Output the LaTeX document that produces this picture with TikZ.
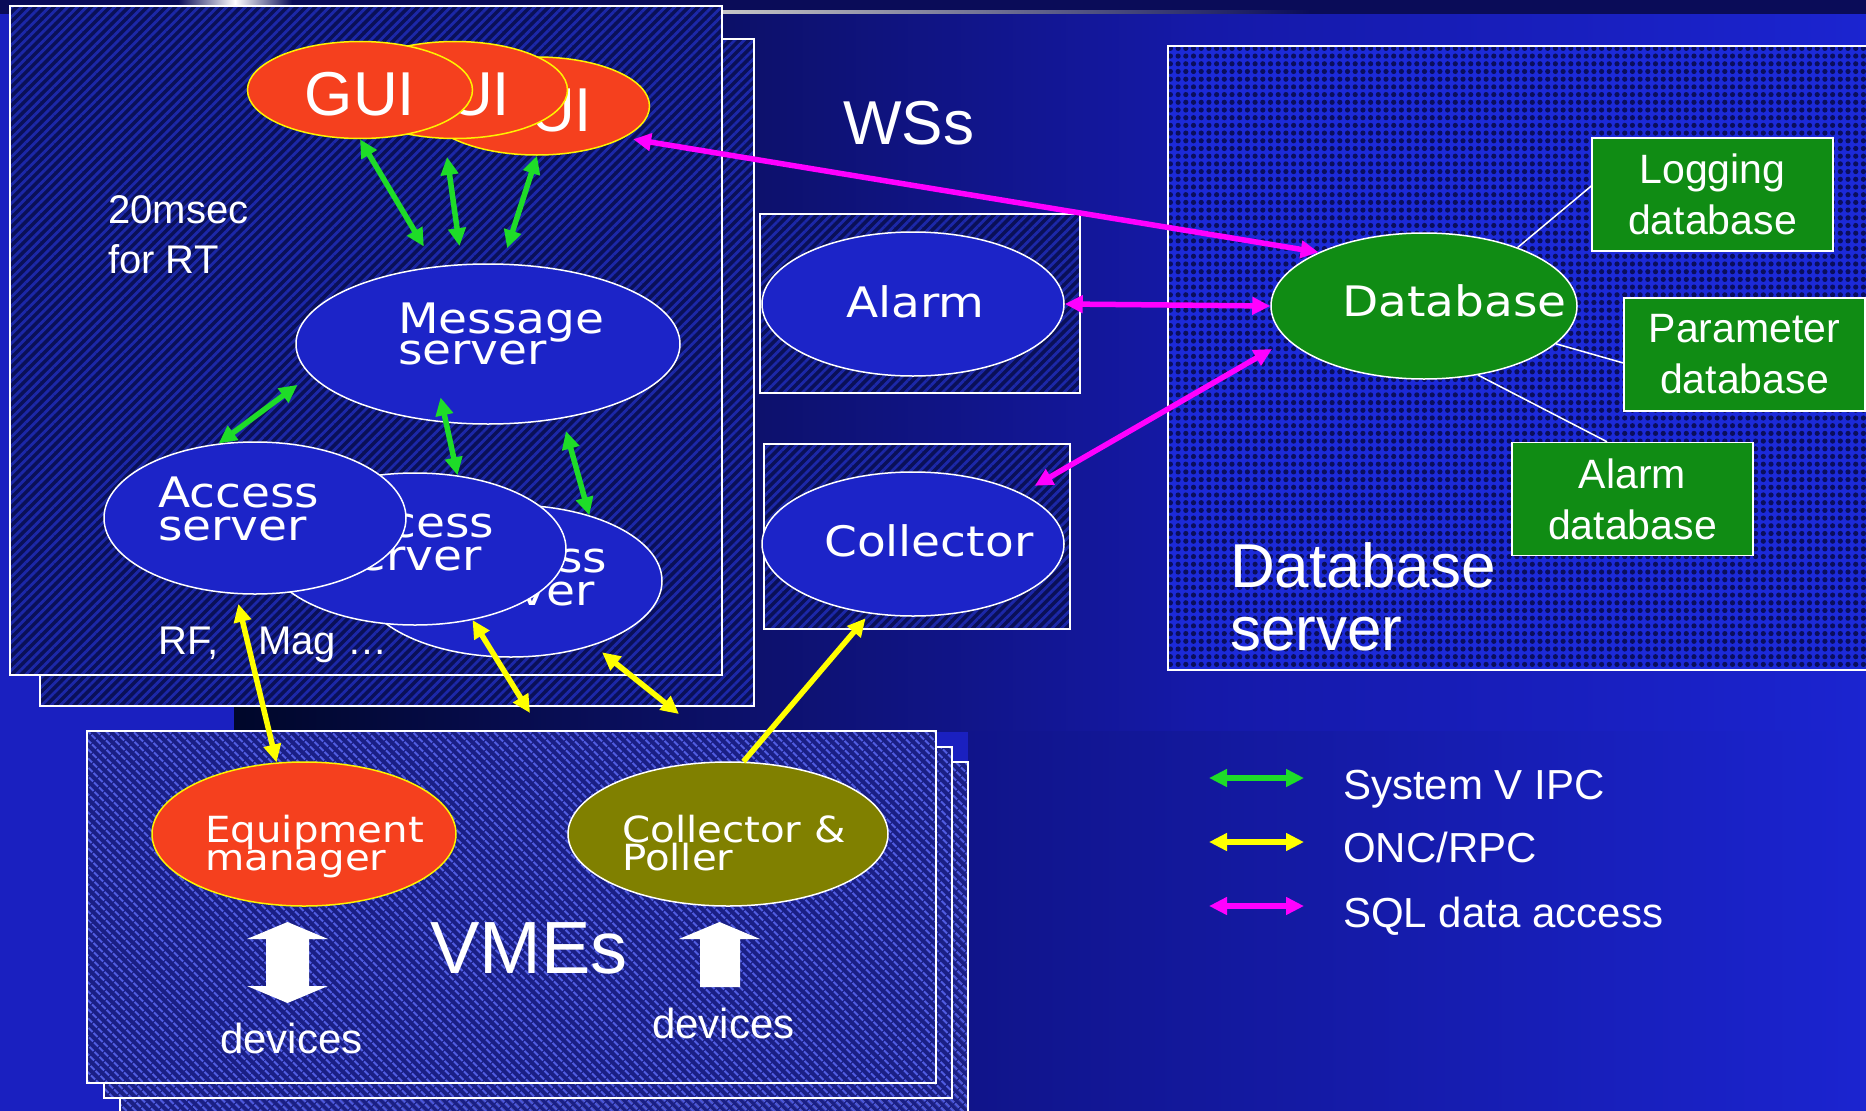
\documentclass[tikz,border=0pt]{standalone}
\usepackage{fontspec}
\usepackage{graphicx}
\setmainfont{Liberation Sans}
\newfontfamily\ellfont[FakeStretch=1.12]{DejaVu Sans}
\usetikzlibrary{shapes.geometric,arrows.meta,patterns.meta}
\definecolor{ellblue}{RGB}{28,36,200}
\definecolor{guired}{RGB}{245,64,30}
\definecolor{dbgreen}{RGB}{16,140,20}
\definecolor{olivec}{RGB}{128,128,0}
\definecolor{ipcgreen}{RGB}{30,220,40}
\definecolor{rpcyellow}{RGB}{255,255,0}
\definecolor{sqlmag}{RGB}{255,0,255}
\definecolor{rtdark}{RGB}{10,16,88}
\definecolor{rtlight}{RGB}{28,40,168}
\definecolor{vmedark}{RGB}{26,31,133}
\definecolor{vmelight}{RGB}{80,92,225}
\definecolor{dbsfill}{RGB}{28,42,216}
\definecolor{dbsdot}{RGB}{10,14,92}
\definecolor{bgbright}{RGB}{26,32,192}
\definecolor{topband}{RGB}{10,12,88}
\definecolor{bgAa}{RGB}{0,7,42}
\definecolor{bgAb}{RGB}{12,16,104}
\definecolor{bgAc}{RGB}{21,25,168}
\definecolor{bgAd}{RGB}{27,36,208}
\definecolor{bgBa}{RGB}{16,20,138}
\pgfdeclarehorizontalshading{bgshadeA}{100bp}{color(0bp)=(bgAa); color(25bp)=(bgAa); color(40bp)=(bgAb); color(54.5bp)=(bgAc); color(75bp)=(bgAd); color(100bp)=(bgAd)}
\newcommand\twol[3]{\vtop{\baselineskip=#1\relax\lineskiplimit=-1000pt\hbox{#2}\hbox{#3}}}
\tikzset{
 ell/.style={ellipse, draw=white, line width=1.5pt, fill=ellblue, inner sep=0pt},
 guiell/.style={ellipse, draw=yellow, line width=1.5pt, fill=guired, inner sep=0pt, minimum width=225pt, minimum height=97pt, text=white, text height=50pt, text depth=0pt, font=\fontsize{62pt}{70pt}\selectfont},
 lbl/.style={text=white, inner sep=0pt, anchor=base west},
 ellfnt/.style={font=\ellfont\fontsize{42pt}{32pt}\selectfont},
 ellfnts/.style={font=\ellfont\fontsize{36pt}{28pt}\selectfont},
 rtbox/.style={draw=white, line width=2pt, preaction={fill=rtdark}, pattern={Lines[angle=45,distance=6.6pt,line width=2.8pt]}, pattern color=rtlight},
 vmebox/.style={draw=white, line width=2pt, preaction={fill=vmedark}, pattern={Lines[angle=-45,distance=6.4pt,line width=2.4pt]}, pattern color=vmelight},
 dbsbox/.style={draw=white, line width=2pt, preaction={fill=dbsfill}, pattern={Dots[distance=7.7pt,radius=2.6pt]}, pattern color=dbsdot},
 dbbox/.style={rectangle, draw=white, line width=1.5pt, fill=dbgreen, inner sep=0pt, minimum width=241pt, minimum height=113pt, text=white, align=center, font=\fontsize{41pt}{51pt}\selectfont},
 thinw/.style={draw=white, line width=1.5pt},
 ipc/.style={draw=ipcgreen, line width=5.5pt, <->},
 rpc/.style={draw=rpcyellow, line width=5.5pt, <->},
 rpcone/.style={draw=rpcyellow, line width=5.5pt, ->},
 sql/.style={draw=sqlmag, line width=5.5pt, <->},
 bigtxt/.style={font=\fontsize{#1}{#1}\selectfont},
}
\begin{document}
\begin{tikzpicture}[x=1pt,y=-1pt,>={Triangle[length=18pt,width=17pt]}]
\useasboundingbox (0,0) rectangle (1866,1111);
% background
\fill[bgbright] (0,0) rectangle (1866,1111);
\shade[shading=bgshadeA] (234,0) rectangle (1866,731);
\shade[left color=bgBa, right color=bgAd] (968,731) rectangle (1866,1111);
\fill[topband] (0,0) rectangle (1866,14);
\shade[left color=topband, right color=topband, middle color=white] (178,0) rectangle (292,6);
\shade[left color=gray!45, right color=topband] (722,10) rectangle (1310,13);
% group boxes
\path[rtbox] (40,39) rectangle (754,706);
\path[rtbox] (10,6) rectangle (722,675);
\path[rtbox] (760,214) rectangle (1080,393);
\path[rtbox] (764,444) rectangle (1070,629);
\path[dbsbox] (1168,46) rectangle (1880,670);
\path[vmebox] (120,762) rectangle (968,1125);
\path[vmebox] (104,747) rectangle (952,1098);
\path[vmebox] (87,731) rectangle (936,1083);
% GUIs
\node[guiell, minimum height=98pt] (gui3) at (537,106) {GUI};
\node[guiell] (gui2) at (455,90) {GUI};
\node[guiell] (gui1) at (360,90) {GUI};
% servers
\node[ell, minimum width=384pt, minimum height=160pt] (msg) at (488,344) {};
\node[lbl, ellfnt] (msgtxt) at (398,333) {\twol{31pt}{Message}{server}};
\node[ell, minimum width=302pt, minimum height=152pt] (acc3) at (511,581) {};
\node[lbl, ellfnt] (acc3txt) at (446,572) {\twol{33pt}{Access}{server}};
\node[ell, minimum width=302pt, minimum height=152pt] (acc2) at (415,549) {};
\node[lbl, ellfnt] (acc2txt) at (333,537) {\twol{33pt}{Access}{server}};
\node[ell, minimum width=302pt, minimum height=152pt] (acc1) at (255,518) {};
\node[lbl, ellfnt] (acc1txt) at (158,507) {\twol{33pt}{Access}{server}};
\node[ell, minimum width=302pt, minimum height=144pt] (alarm) at (913,304) {};
\node[lbl, ellfnt] (alarmtxt) at (846,317) {Alarm};
\node[ell, minimum width=302pt, minimum height=144pt] (coll) at (913,544) {};
\node[lbl, ellfnt] (colltxt) at (824,556) {Collector};
\node[ell, fill=dbgreen, minimum width=306pt, minimum height=146pt] (db) at (1424,306) {};
\node[lbl, ellfnt] (dbtxt) at (1342,316) {Database};
\node[ell, fill=guired, draw=yellow, minimum width=304pt, minimum height=144pt] (em) at (304,834) {};
\node[lbl, ellfnts] (emtxt) at (205,842) {\twol{28pt}{Equipment}{manager}};
\node[ell, fill=olivec, minimum width=320pt, minimum height=144pt] (cp) at (728,834) {};
\node[lbl, ellfnts] (cptxt) at (622,842) {\twol{28pt}{Collector \&}{Poller}};
% databases
\node[dbbox] (logdb) at (1712.5,194.5) {Logging\\database};
\node[dbbox] (pardb) at (1744.5,354.5) {Parameter\\database};
\node[dbbox] (aldb) at (1632.5,499) {Alarm\\database};
\draw[thinw] (db.32) -- (logdb.176);
\draw[thinw] (db.-16) -- (pardb.184);
\draw[thinw] (db.-52) -- (aldb.114);
% free texts
\node[lbl, bigtxt=40pt] (rttxt) at (108,223) {\twol{50pt}{20msec}{for RT}};
\node[lbl, bigtxt=62pt] (wss) at (843,144) {WSs};
\node[lbl, bigtxt=40pt] (rfmag) at (158,654) {RF,\hspace*{40pt}Mag …};
\node[lbl, bigtxt=62pt] (dbsrv) at (1230,587) {\twol{63pt}{Database}{server}};
\node[lbl, bigtxt=74pt] (vmes) at (430,973) {VMEs};
\node[lbl, bigtxt=42pt] (dev1) at (220,1053) {devices};
\node[lbl, bigtxt=42pt] (dev2) at (652,1038) {devices};
% device block arrows
\fill[white] (287.5,922) -- (328,939) -- (309,939) -- (309,986) -- (328,986) -- (287.5,1003) -- (247,986) -- (266,986) -- (266,939) -- (247,939) -- cycle;
\fill[white] (719.5,922) -- (760,939) -- (740,939) -- (740,987) -- (700,987) -- (700,939) -- (679,939) -- cycle;
% System V IPC connectors
\draw[ipc, shorten >=23pt] (gui1.south) -- (msg.124);
\draw[ipc, shorten <=18pt, shorten >=18pt] (gui2.-102) -- (msg.108);
\draw[ipc, shorten >=16pt] (gui3.south) -- (msg.80);
\draw[ipc, shorten >=16pt] (acc1.116) -- (msg.190);
\draw[ipc, shorten >=-26pt] (acc2.60) -- (msg.-118);
\draw[ipc, shorten <=13pt] (msg.-45) -- (acc3.40);
% ONC/RPC connectors
\coordinate (ytwoend) at (530,713);
\coordinate (ythreeend) at (679,714);
\draw[rpc, shorten <=10pt] (acc1.-104) -- (em.111);
\draw[rpc] (acc2.-51) -- (ytwoend);
\draw[rpc, shorten <=11pt] (acc3.-38) -- (ythreeend);
\draw[rpcone, shorten >=6pt] (cp.78) -- (coll.-122);
% SQL connectors
\draw[sql, shorten <=9pt] (gui3.-20) -- (db.153);
\draw[sql] (alarm.east) -- (db.west);
\draw[sql, shorten <=15pt, shorten >=18pt] (coll.25) -- (db.-166);
% legend
\coordinate (lga) at (1209,778); \coordinate (lgb) at (1304,778);
\coordinate (lya) at (1209,842); \coordinate (lyb) at (1304,842);
\coordinate (lma) at (1209,906); \coordinate (lmb) at (1304,906);
\draw[ipc] (lga) -- (lgb);
\draw[rpc] (lya) -- (lyb);
\draw[sql] (lma) -- (lmb);
\node[lbl, bigtxt=42pt] (leg1) at (1343,799) {System V IPC};
\node[lbl, bigtxt=42pt] (leg2) at (1343,862) {ONC/RPC};
\node[lbl, bigtxt=42pt] (leg3) at (1343,927) {SQL data access};
\end{tikzpicture}
\end{document}
